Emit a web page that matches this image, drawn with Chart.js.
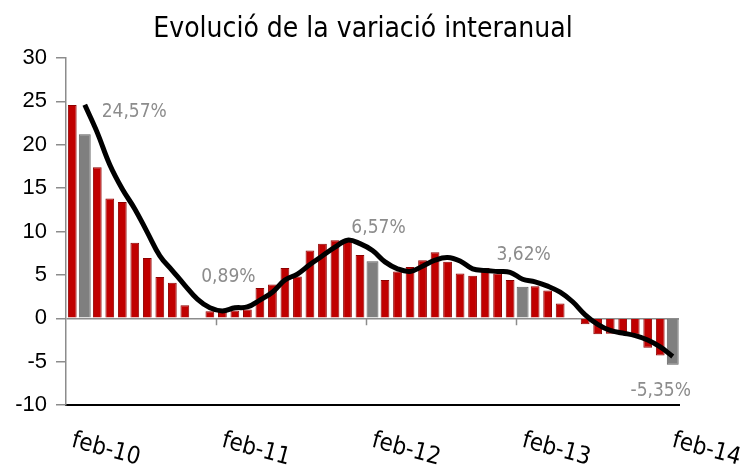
<!DOCTYPE html>
<html lang="ca">
<head>
    <meta charset="UTF-8">
    <title>Evolució de la variació interanual</title>
    <script src="https://cdn.jsdelivr.net/npm/chart.js"></script>
    <style>
        html, body { margin: 0; padding: 0; background: #ffffff; }
        .chart-container { position: relative; width: 746px; height: 471px; }
    </style>
</head>
<body>
<div class="chart-container">
    <canvas id="myChart"></canvas>
</div>
<script>
    // Mesos (feb-10 ... feb-14)
    const mesos = ['feb', 'mar', 'abr', 'mai', 'jun', 'jul', 'ago', 'set', 'oct', 'nov', 'des', 'gen'];
    const anys = ['10', '11', '12', '13', '14'];
    const categories = [];
    anys.forEach(function (a, i) {
        mesos.forEach(function (m, j) {
            if (i === anys.length - 1 && j > 0) return;
            const any = (m === 'gen') ? anys[i + 1] : a;
            categories.push(m + '-' + any);
        });
    });

    // Variació interanual (%), barres
    const variacio = [24.57, 21.2, 17.4, 13.8, 13.4, 8.7, 6.95, 4.76, 4.1, 1.5, -0.1, 0.8,
        0.89, 0.9, 1.0, 3.5, 3.9, 5.8, 4.8, 7.8, 8.6, 9.0, 8.9, 7.3,
        6.57, 4.4, 5.4, 5.9, 6.7, 7.6, 6.5, 5.15, 4.9, 5.8, 5.15, 4.4,
        3.62, 3.7, 3.2, 1.7, -0.05, -0.7, -1.85, -1.8, -1.95, -1.9, -3.4, -4.3,
        -5.35];
    // Barres destacades en gris
    const destacades = [1, 24, 36, 48];
    // Línia de tendència
    const tendencia = [null, 24.6, 21.4, 17.7, 14.9, 12.6, 9.9, 7.2, 5.5, 3.8, 2.2, 1.2,
        0.85, 1.2, 1.3, 2.1, 3.0, 4.4, 5.1, 6.2, 7.2, 8.2, 9.0, 8.6,
        7.8, 6.5, 5.7, 5.4, 6.0, 6.7, 7.0, 6.6, 5.7, 5.5, 5.4, 5.3,
        4.5, 4.2, 3.7, 3.0, 1.9, 0.4, -0.7, -1.4, -1.7, -2.0, -2.5, -3.3,
        -4.4];
    // Etiquetes de l'eix X
    const etiquetesX = ['feb-10', 'feb-11', 'feb-12', 'feb-13', 'feb-14'];
    // Etiquetes de valors
    const etiquetesIdx = [0, 12, 24, 36, 48];
    const etiquetesValor = [24.57, 0.89, 6.57, 3.62, -5.35];
    // Ticks eix Y
    const yMin = -10, yMax = 30, yPas = 5;
    const titol = 'Evolució de la variació interanual';

    const vermelles = variacio.map((v, i) => destacades.includes(i) ? null : v);
    const grises = variacio.map((v, i) => destacades.includes(i) ? v : null);

    const FONT = "'DejaVu Sans Condensed', 'DejaVu Sans', sans-serif";

    // Plugin: títol, etiquetes inclinades, marques de l'eix i valors
    const extres = {
        id: 'extres',
        afterDatasetsDraw(chart) {
            const ctx = chart.ctx;
            const x = chart.scales.x, y = chart.scales.y;
            const amp = x.getPixelForValue(1) - x.getPixelForValue(0);
            const zero = y.getPixelForValue(0);
            ctx.save();
            // títol
            ctx.fillStyle = '#000000';
            ctx.font = '28px ' + FONT;
            ctx.textAlign = 'center';
            ctx.textBaseline = 'middle';
            ctx.fillText(titol, 363, 30);
            // marques sobre la línia de zero
            ctx.strokeStyle = '#8c8c8c';
            ctx.lineWidth = 1.5;
            [12, 24, 36].forEach(function (i) {
                const px = Math.round(x.getPixelForValue(i) - amp / 2) + 0.5;
                ctx.beginPath();
                ctx.moveTo(px, zero);
                ctx.lineTo(px, zero + 7);
                ctx.stroke();
            });
            // etiquetes de valors
            const desp = [[62, 7], [6, -33], [6, -33], [1, -32], [-12, 26]];
            ctx.fillStyle = '#8c8c8c';
            ctx.font = '19px ' + FONT;
            ctx.textAlign = 'center';
            ctx.textBaseline = 'middle';
            etiquetesIdx.forEach(function (idx, k) {
                const txt = etiquetesValor[k].toFixed(2).replace('.', ',') + '%';
                ctx.fillText(txt, x.getPixelForValue(idx) + desp[k][0], y.getPixelForValue(etiquetesValor[k]) + desp[k][1]);
            });
            // etiquetes de l'eix X, inclinades
            ctx.fillStyle = '#000000';
            ctx.font = '24px ' + FONT;
            ctx.textAlign = 'left';
            ctx.textBaseline = 'top';
            etiquetesX.forEach(function (lab) {
                const idx = categories.indexOf(lab);
                ctx.save();
                ctx.translate(x.getPixelForValue(idx) + 3, chart.chartArea.bottom + 24);
                ctx.rotate(15 * Math.PI / 180);
                ctx.fillText(lab, 0, 0);
                ctx.restore();
            });
            ctx.restore();
        }
    };

    const data = {
        labels: categories,
        datasets: [
            {
                type: 'line',
                data: tendencia,
                borderColor: '#000000',
                borderWidth: 5,
                pointRadius: 0,
                tension: 0.4,
                fill: false,
                order: 0
            },
            {
                type: 'bar',
                data: vermelles,
                backgroundColor: '#c00000',
                borderColor: '#8e0000',
                borderWidth: 1,
                barPercentage: 0.7,
                categoryPercentage: 1,
                grouped: false,
                order: 1
            },
            {
                type: 'bar',
                data: grises,
                backgroundColor: '#7f7f7f',
                borderColor: '#5f5f5f',
                borderWidth: 1,
                barPercentage: 0.95,
                categoryPercentage: 1,
                grouped: false,
                order: 2
            }
        ]
    };

    const config = {
        data: data,
        options: {
            responsive: false,
            animation: false,
            layout: { padding: { left: 0, right: 67, top: 58, bottom: 0 } },
            plugins: {
                legend: { display: false },
                tooltip: { enabled: false },
                title: { display: false }
            },
            scales: {
                x: {
                    type: 'category',
                    grid: { display: true, color: 'rgba(0,0,0,0)', drawTicks: false },
                    border: { display: true, color: '#000000', width: 2 },
                    ticks: { display: false },
                    afterFit: function (scale) { scale.height = 66; }
                },
                y: {
                    min: yMin,
                    max: yMax,
                    ticks: {
                        stepSize: yPas,
                        color: '#000000',
                        font: { family: "'Liberation Sans', sans-serif", size: 22 },
                        padding: 9
                    },
                    grid: {
                        color: function (c) { return c.tick && c.tick.value === 0 ? '#8c8c8c' : 'rgba(0,0,0,0)'; },
                        lineWidth: 1.5,
                        tickColor: '#8c8c8c',
                        tickLength: 10
                    },
                    border: { display: true, color: '#8c8c8c', width: 1.5 },
                    afterFit: function (scale) { scale.width = 66; }
                }
            }
        },
        plugins: [extres]
    };

    const canvas = document.getElementById('myChart');
    canvas.width = 746;
    canvas.height = 471;
    const myChart = new Chart(canvas, config);
</script>
</body>
</html>
